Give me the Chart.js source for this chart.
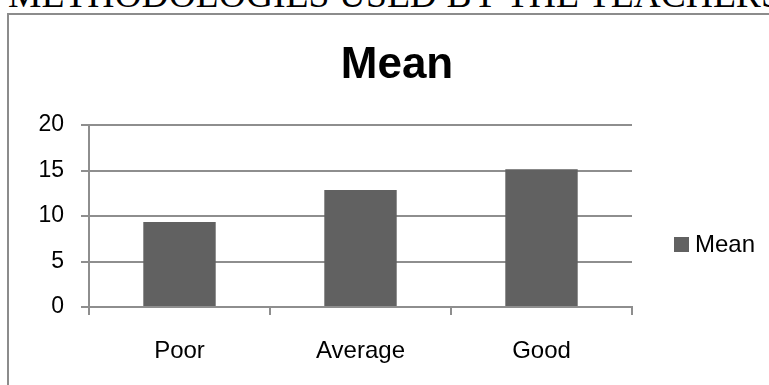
<!DOCTYPE html>
<html>
<head>
<meta charset="utf-8">
<title>Mean</title>
<script src="https://cdn.jsdelivr.net/npm/chart.js@4/dist/chart.umd.min.js"></script>
<style>
	html, body { margin: 0; padding: 0; background: #fff; overflow: hidden; }
	#page { position: relative; width: 769px; height: 385px; overflow: hidden; }
	#heading {
		position: absolute; left: 8px; top: -24px;
		font: 37.6px "Liberation Serif", "Times New Roman", serif;
		line-height: 37px; white-space: nowrap; color: #000;
	}
	#frame {
		position: absolute; left: 7px; top: 13px; width: 900px; height: 500px;
		border: 2px solid #8c8c8c;
	}
	#chart6 { position: absolute; left: 0; top: 0; }
</style>
</head>
<body>
<div id="page">
	<div id="heading">METHODOLOGIES USED BY THE TEACHERS</div>
	<div id="frame"></div>
	<canvas id="chart6" width="769" height="385"></canvas>
</div>
<script>
"use strict";

var chartTitle = "Mean";
var categories = ["Poor", "Average", "Good"];
var meanValues = [9.35, 12.85, 15.15];
var yTicks = [0, 5, 10, 15, 20];

var lineGrey = "#8e8e8e";
var barGrey = "#616161";

// title and right-hand legend are drawn by hand so they sit where the old layout had them
var extras = {
	id: "extras",
	afterDraw: function (chart) {
		var ctx = chart.ctx;
		var ds = chart.data.datasets[0];
		ctx.save();
		ctx.fillStyle = "#000";
		ctx.font = "bold 44px 'Liberation Sans', Arial, sans-serif";
		ctx.textAlign = "center";
		ctx.textBaseline = "alphabetic";
		ctx.fillText(chartTitle, 397, 78);

		ctx.fillStyle = ds.backgroundColor;
		ctx.fillRect(674, 237, 15, 15);
		ctx.fillStyle = "#000";
		ctx.font = "24px 'Liberation Sans', Arial, sans-serif";
		ctx.textAlign = "left";
		ctx.textBaseline = "middle";
		ctx.fillText(ds.label, 695, 245);
		ctx.restore();
	}
};

if (document.getElementById("chart6")) new Chart(document.getElementById("chart6"), {
	type: "bar",
	data: {
		labels: categories,
		datasets: [{
			label: "Mean",
			data: meanValues,
			backgroundColor: barGrey,
			barPercentage: 0.4,
			categoryPercentage: 1.0
		}]
	},
	options: {
		responsive: false,
		animation: false,
		layout: { padding: { left: 0, right: 137, top: 125, bottom: 0 } },
		plugins: {
			legend: { display: false },
			title: { display: false },
			tooltip: { enabled: false }
		},
		scales: {
			x: {
				afterFit: function (s) { s.height = 78; },
				grid: {
					display: true, drawOnChartArea: false, drawTicks: true,
					tickLength: 8, color: lineGrey, lineWidth: 2, offset: true
				},
				border: { display: true, color: lineGrey, width: 2 },
				ticks: {
					color: "#000", padding: 22,
					font: { family: "'Liberation Sans', Arial, sans-serif", size: 24 }
				}
			},
			y: {
				min: 0, max: 20,
				afterFit: function (s) { s.width = 89; },
				afterBuildTicks: function (s) { s.ticks = yTicks.map(function (v) { return { value: v }; }); },
				grid: { color: lineGrey, lineWidth: 2, tickLength: 8 },
				border: { display: true, color: lineGrey, width: 2 },
				ticks: {
					color: "#000", padding: 17,
					font: { family: "'Liberation Sans', Arial, sans-serif", size: 23 }
				}
			}
		}
	},
	plugins: [extras]
});
</script>
</body>
</html>
